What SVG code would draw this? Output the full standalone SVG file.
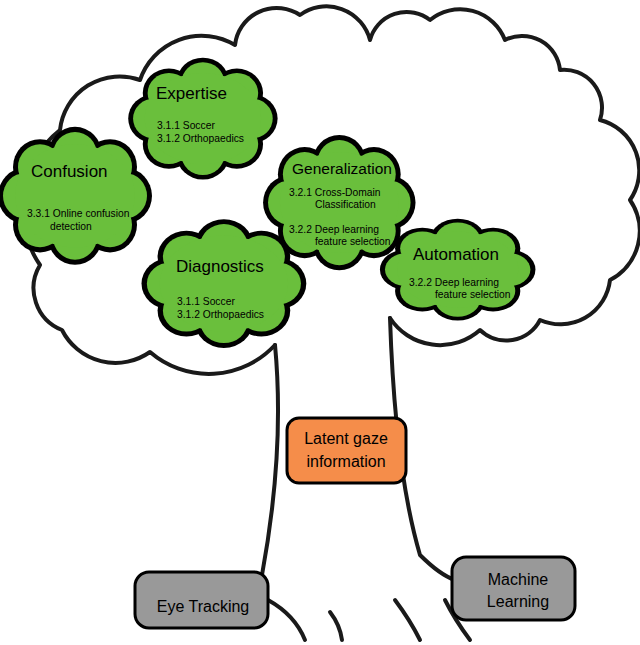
<svg xmlns="http://www.w3.org/2000/svg" width="640" height="645" viewBox="0 0 640 645">
<style>
.tree{fill:none;stroke:#1a1a1a;stroke-width:4;stroke-linecap:round;stroke-linejoin:round}
.t{font-family:"Liberation Sans",Arial,sans-serif;fill:#000}
.h{font-size:17px}
.s{font-size:10.3px}
.box{stroke:#000;stroke-width:3}
.b{font-size:16px;text-anchor:middle}
</style>
<defs>
<g id="cloud">
<g fill="#000">
<circle cx="120" cy="60" r="27"/><circle cx="105" cy="88" r="27"/><circle cx="70" cy="100" r="27"/><circle cx="35" cy="88" r="27"/><circle cx="20" cy="60" r="27"/><circle cx="35" cy="32" r="27"/><circle cx="70" cy="20" r="27"/><circle cx="105" cy="32" r="27"/>
</g>
<g fill="#6abf3c">
<circle cx="120" cy="60" r="22"/><circle cx="105" cy="88" r="22"/><circle cx="70" cy="100" r="22"/><circle cx="35" cy="88" r="22"/><circle cx="20" cy="60" r="22"/><circle cx="35" cy="32" r="22"/><circle cx="70" cy="20" r="22"/><circle cx="105" cy="32" r="22"/>
<ellipse cx="70" cy="60" rx="60" ry="50"/>
</g>
</g>
</defs>
<rect width="640" height="645" fill="#fff"/>
<g id="connectors" class="tree">
<path d="M275 345 A90 90 0 0 1 150 352 A60 60 0 0 1 62 330 A45 45 0 0 1 40 265 A100 100 0 0 1 60 130 A60 60 0 0 1 140 80 A65 65 0 0 1 235 45 A42 42 0 0 1 300 15 A45 45 0 0 1 370 40 A38 38 0 0 1 430 20 A48 48 0 0 1 505 40 A38 38 0 0 1 560 70 A38 38 0 0 1 600 120 A52 52 0 0 1 630 200 A55 55 0 0 1 610 280 A50 50 0 0 1 540 320 A38 38 0 0 1 480 330 A60 60 0 0 1 390 318"/>
<path d="M275 345 Q285 450 262 575"/>
<path d="M390 318 Q395 470 420 555 Q440 575 455 580"/>
<path d="M268 600 Q295 615 305 640"/>
<path d="M330 612 Q340 625 342 640"/>
<path d="M395 600 Q410 620 420 640"/>
<path d="M445 600 Q455 620 470 640"/>
</g>
<g id="expertise"><use href="#cloud" transform="translate(135,64) scale(0.97,0.91)"/>
<text class="t h" x="156" y="99">Expertise</text><text class="t s" x="157" y="129">3.1.1 Soccer</text><text class="t s" x="157" y="142">3.1.2 Orthopaedics</text></g>
<g id="confusion"><use href="#cloud" transform="translate(5,134) scale(1.0,1.03)"/>
<text class="t h" x="31" y="177">Confusion</text><text class="t s" x="27" y="217">3.3.1 Online confusion</text><text class="t s" x="50" y="230">detection</text></g>
<g id="generalization"><use href="#cloud" transform="translate(270,142) scale(0.99,1.01)"/>
<text class="t" x="292" y="174" font-size="15.5">Generalization</text><text class="t s" x="289" y="196">3.2.1 Cross-Domain</text><text class="t s" x="315" y="208">Classification</text><text class="t s" x="289" y="233">3.2.2 Deep learning</text><text class="t s" x="315" y="245">feature selection</text></g>
<g id="automation"><use href="#cloud" transform="translate(387,224) scale(1.01,0.76)"/>
<text class="t h" x="413" y="260">Automation</text><text class="t s" x="409" y="286">3.2.2 Deep learning</text><text class="t s" x="435" y="298">feature selection</text></g>
<g id="diagnostics"><use href="#cloud" transform="translate(149,226) scale(1.07,0.96)"/>
<text class="t h" x="176" y="272">Diagnostics</text><text class="t s" x="177" y="305">3.1.1 Soccer</text><text class="t s" x="177" y="318">3.1.2 Orthopaedics</text></g>
<g id="latent"><rect class="box" x="287" y="418" width="119" height="65" rx="12" fill="#f58d4a"/>
<text class="t b" x="346" y="444">Latent gaze</text><text class="t b" x="346" y="467">information</text></g>
<g id="eye"><rect class="box" x="135" y="572" width="133" height="56" rx="14" fill="#999"/>
<text class="t b" x="203" y="612">Eye Tracking</text></g>
<g id="ml"><rect class="box" x="452" y="557" width="123" height="63" rx="14" fill="#999"/>
<text class="t b" x="518" y="585">Machine</text><text class="t b" x="518" y="607">Learning</text></g>
</svg>
